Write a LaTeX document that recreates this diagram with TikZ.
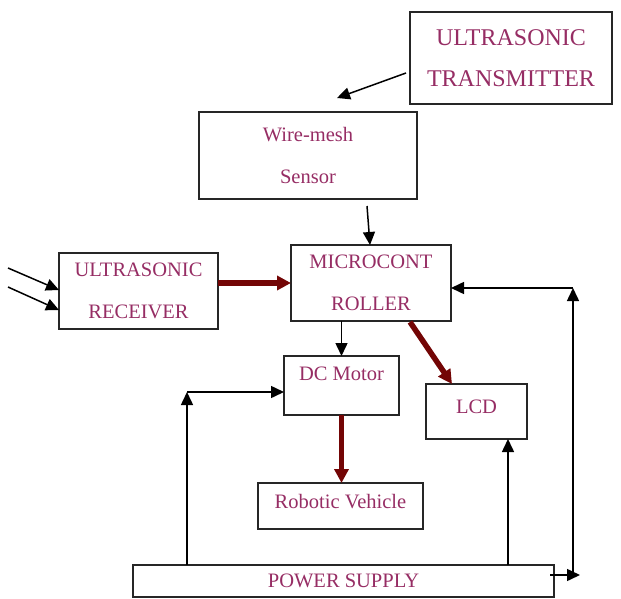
\documentclass[tikz,border=0pt]{standalone}
\usepackage{fontspec}
\setmainfont{Liberation Serif}
\usetikzlibrary{arrows.meta,calc}
\definecolor{txtcol}{RGB}{150,45,100}
\definecolor{thickred}{RGB}{115,5,5}
\tikzset{
  box/.style={draw=black!85, line width=1.8pt, inner sep=0pt, outer sep=0pt,
    text=txtcol, align=center, font=\fontsize{20.5}{42}\selectfont},
  arr/.style={line width=1.5pt, -{Triangle[length=13pt,width=12pt]}},
  thick arr/.style={line width=5.5pt, thickred, -{Triangle[length=14pt,width=14pt]}},
}
\begin{document}
\begin{tikzpicture}[x=1pt,y=-1pt]
\useasboundingbox (0,0) rectangle (621,599);
% boxes
\node[box, minimum width=202pt, minimum height=92pt, font=\fontsize{24}{41}\selectfont] (tx) at (511,58) {ULTRASONIC\\TRANSMITTER};
\node[box, minimum width=218pt, minimum height=87pt] (wire) at (308,155.5) {Wire-mesh\\Sensor};
\node[box, minimum width=159pt, minimum height=76pt] (rx) at (138.5,291) {ULTRASONIC\\RECEIVER};
\node[box, minimum width=160pt, minimum height=76pt] (mcu) at (371,283) {MICROCONT\\ROLLER};
\node[box, minimum width=115pt, minimum height=59pt, text depth=23pt] (dc) at (341.5,385.5) {DC Motor};
\node[box, minimum width=101pt, minimum height=55pt, text depth=10pt] (lcd) at (476.5,411.5) {LCD};
\node[box, minimum width=165pt, minimum height=46pt, text depth=9pt] (rv) at (340.5,506) {Robotic Vehicle};
\node[box, minimum width=421pt, minimum height=32pt] (ps) at (343.5,581) {POWER SUPPLY};
% coordinates
\coordinate (txs) at (406,73);
\coordinate (txe) at (337,98);
\coordinate (ws) at (367,206);
\coordinate (in1) at (8,268);
\coordinate (in2) at (8,287);
\coordinate (c1) at (187,392);
\coordinate (l1) at (508,439);
\coordinate (r1) at (580,575);
\coordinate (r2) at (573,288);
% connectors
\draw[arr] (txs) -- (txe);
\draw[arr] (ws) -- ($(mcu.north)+(-1,0)$);
\draw[arr] (in1) -- ($(rx.west)+(0,-1)$);
\draw[arr] (in2) -- ($(rx.west)+(0,19)$);
\draw[thick arr] (rx.east |- mcu.west) -- (mcu.west);
\draw[arr] (dc.north |- mcu.south) -- (dc.north);
\draw[thick arr] ($(mcu.south)+(39,1)$) -- ($(lcd.north)+(-24.5,0)$);
\draw[thick arr] (dc.south) -- (dc.south |- rv.north);
\draw[arr] (c1 |- ps.north) -- (c1);
\draw[arr] (c1) -- (c1 -| dc.west);
\draw[arr] (l1 |- ps.north) -- (l1);
\draw[arr] ($(ps.east)+(-4,-6)$) -- (r1);
\draw[arr] (r2 |- r1) -- (r2);
\draw[arr] (r2) -- (r2 -| mcu.east);
\end{tikzpicture}
\end{document}
